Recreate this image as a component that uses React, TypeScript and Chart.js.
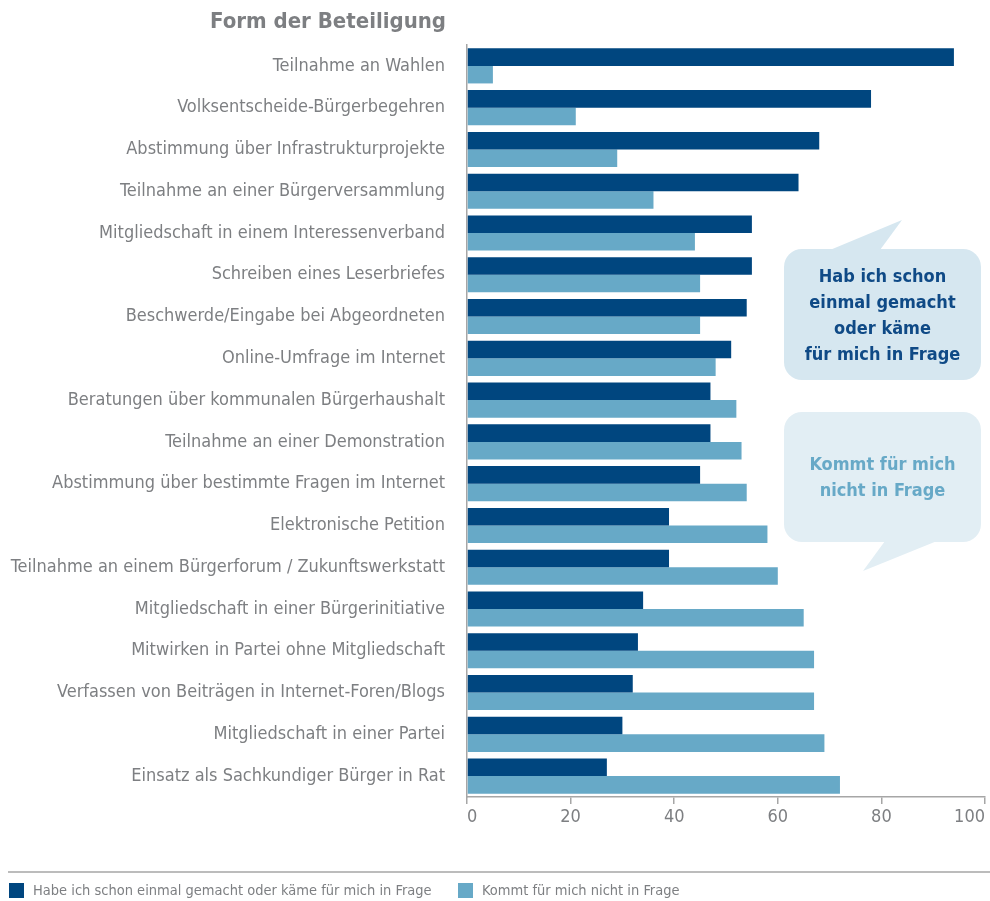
import React, { useEffect, useRef } from "react";
import { Chart, registerables } from "chart.js";

Chart.register(...registerables);

const categories = [
  "Teilnahme an Wahlen",
  "Volksentscheide-Bürgerbegehren",
  "Abstimmung über Infrastrukturprojekte",
  "Teilnahme an einer Bürgerversammlung",
  "Mitgliedschaft in einem Interessenverband",
  "Schreiben eines Leserbriefes",
  "Beschwerde/Eingabe bei Abgeordneten",
  "Online-Umfrage im Internet",
  "Beratungen über kommunalen Bürgerhaushalt",
  "Teilnahme an einer Demonstration",
  "Abstimmung über bestimmte Fragen im Internet",
  "Elektronische Petition",
  "Teilnahme an einem Bürgerforum / Zukunftswerkstatt",
  "Mitgliedschaft in einer Bürgerinitiative",
  "Mitwirken in Partei ohne Mitgliedschaft",
  "Verfassen von Beiträgen in Internet-Foren/Blogs",
  "Mitgliedschaft in einer Partei",
  "Einsatz als Sachkundiger Bürger in Rat",
];

const seriesDone = [94, 78, 68, 64, 55, 55, 54, 51, 47, 47, 45, 39, 39, 34, 33, 32, 30, 27];
const seriesNot = [5, 21, 29, 36, 44, 45, 45, 48, 52, 53, 54, 58, 60, 65, 67, 67, 69, 72];

const seriesNames = [
  "Habe ich schon einmal gemacht oder käme für mich in Frage",
  "Kommt für mich nicht in Frage",
];

const xTicks = [0, 20, 40, 60, 80, 100];

const title = "Form der Beteiligung";
const bubbleTop = ["Hab ich schon", "einmal gemacht", "oder käme", "für mich in Frage"];
const bubbleBottom = ["Kommt für mich", "nicht in Frage"];

const FONT = "'Liberation Sans Narrow', 'DejaVu Sans Condensed', 'Liberation Sans', sans-serif";
const DARK = "#00467f";
const LIGHT = "#67a9c7";
const GREY = "#7d7f82";
const AXIS = "#a6a6a6";

export default function App() {
  const ref = useRef<HTMLCanvasElement>(null);

  useEffect(() => {
    if (!ref.current) return;
    const chart = new Chart(ref.current, {
      type: "bar",
      data: {
        labels: categories,
        datasets: [
          {
            label: seriesNames[0],
            data: seriesDone,
            backgroundColor: DARK,
            categoryPercentage: 0.84,
            barPercentage: 1,
          },
          {
            label: seriesNames[1],
            data: seriesNot,
            backgroundColor: LIGHT,
            categoryPercentage: 0.84,
            barPercentage: 1,
          },
        ],
      },
      options: {
        indexAxis: "y",
        responsive: false,
        animation: false,
        devicePixelRatio: 1,
        layout: { padding: { top: 45, right: 5, bottom: 74, left: 0 } },
        plugins: {
          legend: { display: false },
          tooltip: { enabled: false },
        },
        scales: {
          x: {
            min: 0,
            max: 100,
            afterBuildTicks: (scale: any) => {
              scale.ticks = xTicks.map((v) => ({ value: v }));
            },
            afterFit: (scale: any) => {
              scale.height = 30;
              scale.paddingLeft = 0;
              scale.paddingRight = 0;
            },
            grid: {
              drawOnChartArea: false,
              drawTicks: true,
              tickLength: 7,
              color: AXIS,
              lineWidth: 1.5,
            },
            border: { display: true, color: AXIS, width: 1.5 },
            ticks: {
              align: "inner",
              padding: 3,
              color: GREY,
              font: { family: FONT, size: 18 },
              maxRotation: 0,
            },
          },
          y: {
            afterFit: (scale: any) => {
              scale.width = 467;
            },
            grid: { display: false, drawTicks: false },
            border: { display: true, color: AXIS, width: 1.5 },
            ticks: {
              padding: 22,
              color: GREY,
              autoSkip: false,
              font: { family: FONT, size: 18 },
            },
          },
        },
      },
    });
    return () => chart.destroy();
  }, []);

  const lineStyle = (color: string, size: number): React.CSSProperties => ({
    color,
    fontFamily: FONT,
    fontWeight: "bold",
    fontSize: size,
    lineHeight: "26px",
    textAlign: "center",
  });

  return (
    <div
      style={{
        position: "fixed",
        left: 0,
        top: 0,
        width: 990,
        height: 901,
        background: "#fff",
        overflow: "hidden",
        fontFamily: FONT,
      }}
    >
      <canvas ref={ref} width={990} height={901} style={{ position: "absolute", left: 0, top: 0 }} />
      <div
        style={{
          position: "absolute",
          left: 210,
          top: 6,
          fontSize: 22,
          fontWeight: "bold",
          color: GREY,
          lineHeight: "30px",
          whiteSpace: "nowrap",
        }}
      >
        {title}
      </div>
      <svg
        width={990}
        height={901}
        style={{ position: "absolute", left: 0, top: 0, pointerEvents: "none" }}
      >
        <rect x={784} y={249} width={197} height={131} rx={18} ry={18} fill="#d6e7f0" />
        <polygon points="830,250 902,220 880,250" fill="#d6e7f0" />
        <rect x={784} y={412} width={197} height={130} rx={18} ry={18} fill="#e2eef4" />
        <polygon points="885,541 863,571 937,541" fill="#e2eef4" />
        <line x1={8} y1={872} x2={990} y2={872} stroke="#a6a6a6" strokeWidth={1.5} />
      </svg>
      <div
        style={{
          position: "absolute",
          left: 784,
          top: 249,
          width: 197,
          height: 131,
          display: "flex",
          flexDirection: "column",
          justifyContent: "center",
        }}
      >
        {bubbleTop.map((t) => (
          <div key={t} style={lineStyle("#0f4a86", 18)}>
            {t}
          </div>
        ))}
      </div>
      <div
        style={{
          position: "absolute",
          left: 784,
          top: 412,
          width: 197,
          height: 130,
          display: "flex",
          flexDirection: "column",
          justifyContent: "center",
        }}
      >
        {bubbleBottom.map((t) => (
          <div key={t} style={lineStyle(LIGHT, 18)}>
            {t}
          </div>
        ))}
      </div>
      <div
        style={{
          position: "absolute",
          left: 9,
          top: 880,
          display: "flex",
          alignItems: "center",
          whiteSpace: "nowrap",
          fontSize: 14.5,
          color: GREY,
          lineHeight: "20px",
        }}
      >
        <span style={{ display: "inline-block", width: 15, height: 15, background: DARK, marginRight: 9 }} />
        <span style={{ width: 425 }}>{seriesNames[0]}</span>
        <span style={{ display: "inline-block", width: 15, height: 15, background: LIGHT, marginRight: 9 }} />
        <span>{seriesNames[1]}</span>
      </div>
    </div>
  );
}
